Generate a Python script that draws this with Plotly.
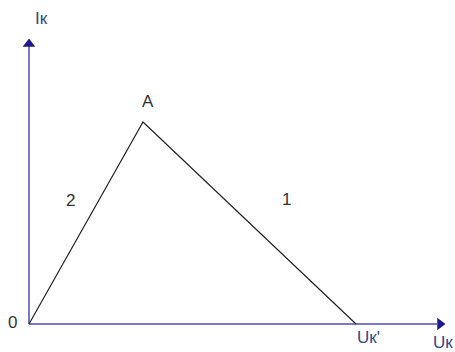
import plotly.graph_objects as go

# Characteristic: 0 -> A -> Uк'
u_points = [0, 114, 327]
i_points = [0, 202, 0]
point_labels = ["0", "A", "Uк'"]
segment_labels = ["2", "1"]
axis_labels = ["Iк", "Uк"]

axis_color = "#7b77c9"
head_color = "#1d1a8a"
text_dark = "#333333"
text_blue = "#34457f"
font_family = "Liberation Sans, Arial, sans-serif"

fig = go.Figure()

# axes lines
fig.add_trace(go.Scatter(x=[0, 0], y=[0, 278], mode="lines",
                         line=dict(color=axis_color, width=2), hoverinfo="skip"))
fig.add_trace(go.Scatter(x=[0, 408], y=[0, 0], mode="lines",
                         line=dict(color=axis_color, width=2), hoverinfo="skip"))
# arrow heads
fig.add_trace(go.Scatter(x=[0], y=[280], mode="markers",
                         marker=dict(symbol="triangle-up", size=11, color=head_color),
                         hoverinfo="skip"))
fig.add_trace(go.Scatter(x=[411], y=[0], mode="markers",
                         marker=dict(symbol="triangle-right", size=11, color=head_color),
                         hoverinfo="skip"))

# characteristic line
fig.add_trace(go.Scatter(x=u_points, y=i_points, mode="lines",
                         line=dict(color="#222222", width=1.2), hoverinfo="skip"))

def label(x, y, text, color, size=17):
    fig.add_annotation(x=x, y=y, text=text, showarrow=False,
                       font=dict(family=font_family, size=size, color=color))

label(-17, 2, point_labels[0], text_dark)
label(u_points[1] + 5, i_points[1] + 21, point_labels[1], text_dark)
label(339, -13, point_labels[2], text_blue)
label(41, 124, segment_labels[0], text_dark)
label(257, 125, segment_labels[1], text_dark)
label(12, 306, axis_labels[0], text_blue, 17)
label(414, -18, axis_labels[1], text_blue)

fig.update_layout(
    width=455, height=352,
    margin=dict(l=0, r=0, t=0, b=0),
    paper_bgcolor="white", plot_bgcolor="white",
    showlegend=False,
    xaxis=dict(range=[-29, 426], visible=False, fixedrange=True),
    yaxis=dict(range=[-28, 324], visible=False, fixedrange=True),
)

fig.write_html("out.html", config={"displayModeBar": False})

with open("out.html", encoding="utf-8") as f:
    html = f.read()
html = html.replace("<head>", "<head><style>html,body{margin:0;padding:0;overflow:hidden;}</style>", 1)
with open("out.html", "w", encoding="utf-8") as f:
    f.write(html)
